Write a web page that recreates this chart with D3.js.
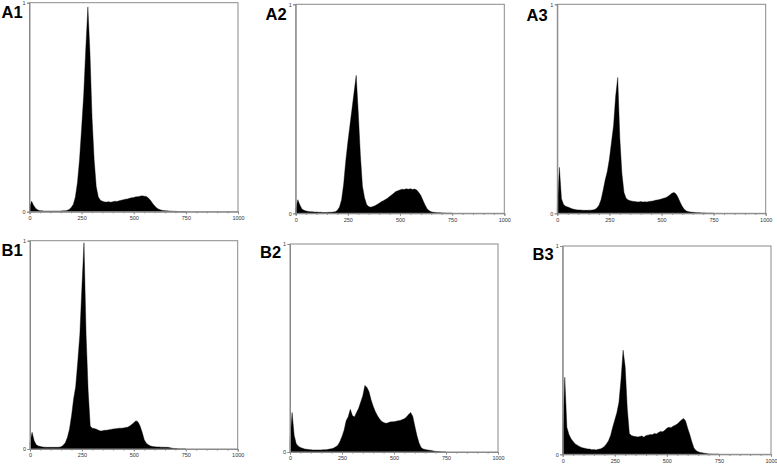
<!DOCTYPE html>
<html>
<head>
<meta charset="utf-8">
<script src="https://cdn.jsdelivr.net/npm/d3@7"></script>
<style>
html,body{margin:0;padding:0;background:#fff;}
svg{display:block;}
</style>
</head>
<body>
<svg id="chart" width="777" height="465"></svg>
<script>
// channel positions (DNA content, 0..750; above 750 all counts are zero)
const channels = [
  0,10,20,30,40,50,60,70,80,90,
  100,110,120,130,140,150,160,170,180,190,
  200,210,220,230,240,250,260,270,280,290,
  300,310,320,330,340,350,360,370,380,390,
  400,410,420,430,440,450,460,470,480,490,
  500,510,520,530,540,550,560,570,580,590,
  600,610,620,630,640,650,660,670,680,690,
  700,710,720,730,740,750];

const xTickLabels = ["0","250","500","750","1000"];
const xTickValues = [0,250,500,750,1000];
const yTickLabels = ["0","1"];
const panelNames = ["A1","A2","A3","B1","B2","B3"];

const countsA1 = [
  0.02,0.05,0.03,0.015,0.008,0.005,0.004,0.003,0.003,0.003,
  0.003,0.003,0.003,0.003,0.003,0.003,0.004,0.004,0.006,0.01,
  0.02,0.035,0.07,0.14,0.25,0.40,0.56,0.78,0.98,0.76,
  0.45,0.25,0.12,0.07,0.055,0.05,0.047,0.046,0.048,0.045,
  0.048,0.05,0.049,0.052,0.055,0.057,0.06,0.061,0.064,0.067,
  0.068,0.071,0.072,0.074,0.076,0.074,0.073,0.066,0.055,0.04,
  0.028,0.018,0.012,0.008,0.006,0.005,0.004,0.003,0.003,0.002,
  0.002,0.001,0,0,0,0];

const countsA2 = [
  0.02,0.065,0.04,0.02,0.014,0.011,0.009,0.008,0.007,0.006,
  0.006,0.005,0.005,0.004,0.004,0.004,0.005,0.005,0.006,0.008,
  0.014,0.03,0.065,0.14,0.25,0.34,0.42,0.50,0.58,0.66,
  0.48,0.28,0.13,0.075,0.042,0.032,0.029,0.032,0.036,0.042,
  0.048,0.055,0.06,0.066,0.072,0.08,0.088,0.096,0.104,0.108,
  0.112,0.115,0.114,0.117,0.115,0.118,0.114,0.116,0.112,0.1,
  0.085,0.062,0.04,0.022,0.012,0.007,0.005,0.004,0.003,0.003,
  0.002,0.001,0,0,0,0];

const countsA3 = [
  0.02,0.22,0.07,0.042,0.034,0.03,0.026,0.022,0.019,0.017,
  0.016,0.016,0.015,0.014,0.014,0.015,0.015,0.016,0.018,0.025,
  0.038,0.065,0.11,0.16,0.2,0.26,0.34,0.42,0.56,0.65,
  0.36,0.19,0.1,0.072,0.064,0.06,0.058,0.056,0.055,0.054,
  0.056,0.054,0.055,0.054,0.056,0.058,0.059,0.062,0.064,0.066,
  0.069,0.072,0.075,0.08,0.088,0.096,0.1,0.092,0.075,0.052,
  0.032,0.018,0.011,0.008,0.006,0.005,0.004,0.003,0.003,0.002,
  0.002,0.001,0,0,0,0];

const countsB1 = [
  0.03,0.08,0.04,0.02,0.015,0.012,0.01,0.009,0.008,0.008,
  0.008,0.008,0.008,0.008,0.009,0.011,0.018,0.03,0.055,0.095,
  0.16,0.24,0.30,0.42,0.55,0.78,0.99,0.55,0.28,0.11,
  0.10,0.098,0.095,0.09,0.086,0.088,0.09,0.09,0.092,0.094,
  0.096,0.097,0.098,0.1,0.1,0.101,0.103,0.105,0.11,0.118,
  0.126,0.136,0.13,0.11,0.08,0.045,0.028,0.02,0.015,0.012,
  0.011,0.01,0.01,0.009,0.009,0.008,0.008,0.007,0.005,0.003,
  0.002,0.001,0,0,0,0];

const countsB2 = [
  0.05,0.19,0.08,0.04,0.028,0.022,0.018,0.015,0.013,0.012,
  0.011,0.01,0.01,0.01,0.01,0.01,0.011,0.011,0.012,0.014,
  0.016,0.019,0.025,0.033,0.05,0.075,0.105,0.15,0.17,0.205,
  0.175,0.168,0.19,0.21,0.24,0.27,0.32,0.31,0.29,0.25,
  0.22,0.195,0.175,0.16,0.148,0.142,0.138,0.14,0.144,0.145,
  0.146,0.148,0.15,0.152,0.156,0.16,0.168,0.18,0.19,0.172,
  0.125,0.08,0.045,0.022,0.015,0.012,0.01,0.009,0.007,0.005,
  0.003,0.002,0.001,0,0,0];

const countsB3 = [
  0.1,0.37,0.13,0.095,0.075,0.062,0.05,0.044,0.038,0.033,
  0.03,0.028,0.026,0.025,0.022,0.023,0.021,0.024,0.026,0.03,
  0.038,0.05,0.065,0.09,0.13,0.165,0.2,0.25,0.36,0.5,
  0.42,0.22,0.1,0.09,0.087,0.085,0.083,0.085,0.088,0.082,
  0.09,0.092,0.095,0.094,0.1,0.098,0.105,0.11,0.108,0.115,
  0.125,0.13,0.128,0.135,0.14,0.145,0.155,0.165,0.172,0.16,
  0.125,0.095,0.06,0.03,0.018,0.012,0.009,0.007,0.005,0.004,
  0.002,0.001,0,0,0,0];

const allCounts = [countsA1,countsA2,countsA3,countsB1,countsB2,countsB3];

// layout (plot boxes in pixels) and label positions
const boxes = [
  {l:29.5, r:238,   t:2.7,   b:211.7, lx:1.5, ly:18},
  {l:295.7,r:504.3, t:4.3,   b:213.3, lx:265.5, ly:20.3},
  {l:557.3,r:765.7, t:4.3,   b:213.3, lx:526.5, ly:21},
  {l:30,   r:237.7, t:240.7, b:449,   lx:1.5, ly:256.3},
  {l:290,  r:498,   t:244,   b:452,   lx:260,  ly:257.6},
  {l:562.7,r:771,   t:246,   b:454.3, lx:532.5, ly:259.6}
];

const svg = d3.select("#chart");
const axisColor = "#8a8a8a";

boxes.forEach((bx, i) => {
  const x = d3.scaleLinear().domain([0,1000]).range([bx.l, bx.r]);
  const y = d3.scaleLinear().domain([0,1]).range([bx.b, bx.t]);
  const g = svg.append("g");

  // histogram
  const data = channels.map((c, k) => ({c, v: allCounts[i][k]}));
  g.append("path")
    .datum(data)
    .attr("fill", "#000")
    .attr("stroke", "#000")
    .attr("stroke-width", 0.4)
    .attr("d", d3.area().x(d => x(d.c)).y0(y(0)).y1(d => y(d.v)));

  // frame
  g.append("rect")
    .attr("x", bx.l).attr("y", bx.t)
    .attr("width", bx.r - bx.l).attr("height", bx.b - bx.t)
    .attr("fill", "none").attr("stroke", axisColor).attr("stroke-width", 1);

  // x axis: minor ticks every 50
  const xAxisMinor = d3.axisBottom(x).tickValues(d3.range(0, 1001, 50)).tickSize(1.6).tickFormat("");
  const gxm = g.append("g").attr("transform", `translate(0,${bx.b})`).call(xAxisMinor);
  gxm.select(".domain").remove();
  gxm.selectAll("line").attr("stroke", axisColor);

  const xAxis = d3.axisBottom(x).tickValues(xTickValues).tickSize(2.5)
    .tickFormat((d, k) => xTickLabels[k]).tickPadding(2);
  const gx = g.append("g").attr("transform", `translate(0,${bx.b})`).call(xAxis);
  gx.select(".domain").attr("stroke", axisColor);
  gx.selectAll("line").attr("stroke", axisColor);
  gx.selectAll("text").attr("font-family", "Liberation Sans, Arial, sans-serif")
    .attr("font-size", 5.5).attr("fill", "#333");

  const yAxis = d3.axisLeft(y).tickValues([0,1]).tickSize(2.5)
    .tickFormat((d, k) => yTickLabels[k]).tickPadding(1.5);
  const gy = g.append("g").attr("transform", `translate(${bx.l},0)`).call(yAxis);
  gy.select(".domain").attr("stroke", axisColor);
  gy.selectAll("line").attr("stroke", axisColor);
  gy.selectAll("text").attr("font-family", "Liberation Sans, Arial, sans-serif")
    .attr("font-size", 5.5).attr("fill", "#333");

  // panel label
  svg.append("text")
    .attr("x", bx.lx).attr("y", bx.ly)
    .attr("font-family", "Liberation Sans, Arial, sans-serif")
    .attr("font-weight", "bold")
    .attr("font-size", 16.5)
    .attr("fill", "#000")
    .text(panelNames[i]);
});
</script>
</body>
</html>
